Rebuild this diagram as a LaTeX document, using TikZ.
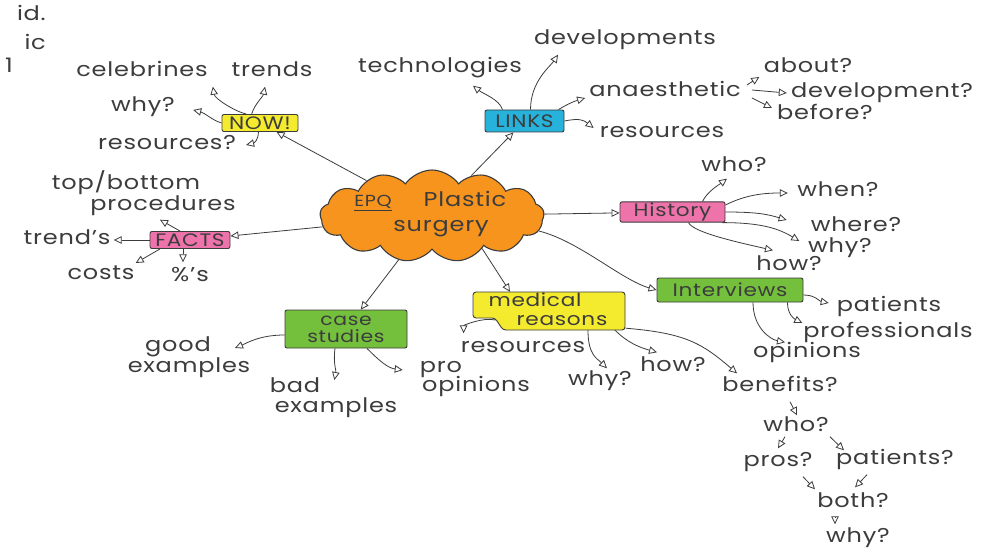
\documentclass[tikz,border=0pt]{standalone}
\usepackage{fontspec}
\setmainfont{Poppins}[FakeStretch=1.2,LetterSpace=4]
\usetikzlibrary{arrows.meta,shapes.symbols}
\definecolor{ink}{HTML}{3C3C3C}
\definecolor{cYel}{HTML}{F4EA2E}
\definecolor{cCyan}{HTML}{27B2DB}
\definecolor{cPink}{HTML}{EE73AB}
\definecolor{cGreen}{HTML}{74BF3C}
\definecolor{cOrange}{HTML}{F7941E}
\begin{document}
\begin{tikzpicture}[x=1pt,y=-1pt,
  lbl/.style={text=ink,font=\fontsize{20}{22}\selectfont,inner sep=1pt,text height=13pt,text depth=4pt},
  boxtxt/.style={draw=ink,line width=0.9pt,rounded corners=2pt,text=ink,font=\fontsize{18}{16}\selectfont,inner sep=1pt,align=center},
  arr/.style={draw=ink,line width=0.8pt,-{Triangle[open,length=8pt,width=7.5pt]}},
]
\fill[white] (0,0) rectangle (995,553);
\useasboundingbox (0,0) rectangle (995,553);

% fragments at the left edge
\node[lbl,anchor=east] (f1) at (47,16) {id.};
\node[lbl,anchor=east] (f2) at (47,45) {ic};
\node[lbl] (f3) at (9,68) {1};

% central cloud
\node[cloud,cloud puffs=13,cloud puff arc=110,cloud ignores aspect,minimum width=224pt,minimum height=92pt,draw=ink,line width=1.1pt,fill=cOrange,inner sep=0pt] (cloud) at (432,216) {};
\node[lbl,font=\fontsize{16}{18}\selectfont] (epq) at (373,202) {\underline{EPQ}};
\node[lbl] (plastic) at (465,202) {Plastic};
\node[lbl] (surgery) at (441,227) {surgery};

% boxes
\node[boxtxt,fill=cYel,minimum width=76pt,minimum height=17pt] (now) at (260,123) {NOW!};
\node[boxtxt,fill=cCyan,minimum width=79pt,minimum height=22pt] (links) at (524.5,121) {LINKS};
\node[boxtxt,fill=cPink,minimum width=105pt,minimum height=20pt] (hist) at (672.5,212) {History};
\node[boxtxt,fill=cPink,minimum width=80pt,minimum height=17pt] (facts) at (190,240) {FACTS};
\node[boxtxt,fill=cGreen,minimum width=146pt,minimum height=24pt] (intv) at (730,290) {Interviews};
\node[boxtxt,fill=cGreen,font=\fontsize{17}{17}\selectfont,minimum width=122pt,minimum height=38pt] (case) at (346,329) {case\\studies};
\draw[draw=ink,line width=0.9pt,fill=cYel,rounded corners=3pt] (473,292) -- (625,292) -- (625,330) -- (503,330) -- (495,318) -- (473,318) -- cycle;
\node[minimum width=153pt,minimum height=38pt,inner sep=0pt] (med) at (549,311) {};
\node[lbl,font=\fontsize{18}{18}\selectfont] (medt1) at (535,302) {medical};
\node[lbl,font=\fontsize{18}{18}\selectfont] (medt2) at (562,321) {reasons};

% labels
\node[lbl,minimum width=133pt] (celeb) at (142,72) {celebrines};
\node[lbl,minimum width=67pt] (trends) at (272,72) {trends};
\node[lbl,minimum width=70pt] (why1) at (143,107) {why?};
\node[lbl,minimum width=137pt] (res1) at (167,145) {resources?};
\node[lbl,minimum width=160pt] (tech) at (440,68) {technologies};
\node[lbl,minimum width=190pt] (dev) at (625,40) {developments};
\node[lbl,minimum width=145pt] (anaes) at (665,92) {anaesthetic};
\node[lbl,minimum width=115pt] (res2) at (662,133) {resources};
\node[lbl,minimum width=91pt] (about) at (808,68) {about?};
\node[lbl,minimum width=190pt] (devq) at (882,93) {development?};
\node[lbl,minimum width=96pt] (before) at (825,115) {before?};
\node[lbl,minimum width=52pt] (who) at (734,167) {who?};
\node[lbl,minimum width=88pt] (when) at (838,192) {when?};
\node[lbl,minimum width=92pt] (where) at (856,227) {where?};
\node[lbl,minimum width=77pt] (why2) at (840,248) {why?};
\node[lbl,minimum width=55pt] (how) at (789,266) {how?};
\node[lbl,minimum width=98pt] (pat) at (889,307) {patients};
\node[lbl,minimum width=173pt] (prof) at (888,333) {professionals};
\node[lbl,minimum width=80pt] (opin) at (807,353) {opinions};
\node[lbl,minimum width=132pt] (topb) at (126,185) {top/bottom};
\node[lbl,minimum width=133pt] (proc) at (163,206) {procedures};
\node[lbl,minimum width=89pt] (trd) at (67,240) {trend's};
\node[lbl,minimum width=65pt] (costs) at (101,275) {costs};
\node[lbl,minimum width=46pt] (pct) at (190,277) {\%'s};
\node[lbl,minimum width=57pt] (good) at (178,347) {good};
\node[lbl,minimum width=128pt] (goodex) at (189,368) {examples};
\node[lbl,minimum width=44pt] (bad) at (295,388) {bad};
\node[lbl,minimum width=127pt] (badex) at (336,408) {examples};
\node[lbl,minimum width=33pt] (pro) at (441,368) {pro};
\node[lbl,minimum width=98pt] (proop) at (476,387) {opinions};
\node[lbl,minimum width=103pt] (medres) at (523,348) {resources};
\node[lbl,minimum width=74pt] (why3) at (600,381) {why?};
\node[lbl,minimum width=60pt] (how3) at (673,367) {how?};
\node[lbl,minimum width=123pt] (ben) at (780,387) {benefits?};
\node[lbl,minimum width=62pt] (who2) at (796,427) {who?};
\node[lbl,minimum width=63pt] (pros) at (778,462) {pros?};
\node[lbl,minimum width=115pt] (patq) at (895,460) {patients?};
\node[lbl,minimum width=67pt] (both) at (853,503) {both?};
\node[lbl,minimum width=70pt] (why4) at (858,538) {why?};

% cloud to branches
\draw[arr] (cloud) -- (now);
\draw[arr] (cloud) -- (links);
\draw[arr] (cloud) -- (hist);
\draw[arr] (cloud) -- (facts);
\draw[arr] (cloud) -- (case);
\draw[arr] (cloud.-33) -- ([xshift=-39pt]med.north);
\draw[arr] (cloud.-8) .. controls +(40,10) and +(-35,-10) .. (intv.west);

% NOW
\draw[arr] (now.147) .. controls +(-12,-3) and +(2,12) .. ([xshift=4pt,yshift=-5pt]celeb.south east);
\draw[arr] (now.133) .. controls +(3,-10) and +(-2,10) .. ([xshift=-7pt,yshift=-5pt]trends.south);
\draw[arr] (now.west) .. controls +(-10,-3) and +(12,3) .. ([xshift=15pt,yshift=-3pt]why1.east);
\draw[arr] (now.-100) .. controls +(0,8) and +(8,-2) .. ([xshift=9pt]res1.east);

% LINKS
\draw[arr] ([xshift=-22pt]links.north) .. controls +(-3,-10) and +(10,8) .. ([xshift=33pt,yshift=-8pt]tech.south);
\draw[arr] ([xshift=6pt]links.north) .. controls +(0,-28) and +(-8,12) .. ([xshift=-67pt,yshift=-5pt]dev.south);
\draw[arr] ([xshift=-6pt]links.north east) .. controls +(10,-6) and +(-10,3) .. ([xshift=-3pt,yshift=-6pt]anaes.west);
\draw[arr] (links.east) .. controls +(15,-3) and +(-10,-8) .. ([xshift=-5pt,yshift=5pt]res2.west);
\draw[arr] ([xshift=5pt,yshift=7pt]anaes.east) -- ([xshift=-3pt,yshift=-9pt]about.west);
\draw[arr] ([xshift=10pt,yshift=2pt]anaes.east) -- (devq.west);
\draw[arr] ([xshift=10pt,yshift=-6pt]anaes.east) -- ([xshift=-4pt,yshift=7pt]before.west);

% History
\draw[arr] ([xshift=30pt]hist.north) .. controls +(5,-10) and +(-8,6) .. ([xshift=-7pt,yshift=-2pt]who.south);
\draw[arr] ([yshift=7pt]hist.east) .. controls +(20,-10) and +(-25,0) .. ([xshift=-6pt,yshift=-1pt]when.west);
\draw[arr] (hist.east) .. controls +(30,0) and +(-20,-6) .. ([xshift=-23pt,yshift=7pt]where.west);
\draw[arr] ([xshift=-3pt]hist.south east) .. controls +(40,0) and +(-20,-12) .. ([xshift=-2pt,yshift=7pt]why2.west);
\draw[arr] ([xshift=16pt]hist.south) .. controls +(5,10) and +(-35,-8) .. ([xshift=-16pt,yshift=6pt]how.north);

% Interviews
\draw[arr] ([yshift=-5pt]intv.east) .. controls +(12,0) and +(-10,-2) .. ([xshift=-7pt,yshift=4pt]pat.west);
\draw[arr] ([xshift=-16pt]intv.south east) .. controls +(0,12) and +(-8,-4) .. ([xshift=1pt,yshift=10pt]prof.west);
\draw[arr] ([xshift=23pt]intv.south) .. controls +(0,25) and +(-15,-3) .. ([xshift=-22pt,yshift=1pt]opin.north);

% FACTS
\draw[arr] ([xshift=-10pt]facts.north) -- ([xshift=-3pt,yshift=-4pt]proc.south);
\draw[arr] (facts.west) -- ([xshift=2pt]trd.east);
\draw[arr] ([xshift=-30pt]facts.south) -- ([yshift=12pt]costs.east);
\draw[arr] ([xshift=-7pt]facts.south) -- ([xshift=-7pt,yshift=5pt]pct.north);

% case studies
\draw[arr] ([yshift=-6pt]case.west) .. controls +(-25,0) and +(12,-5) .. ([xshift=23pt,yshift=-1pt]good.east);
\draw[arr] ([xshift=-11pt]case.south) .. controls +(-2,15) and +(2,-10) .. ([xshift=13pt,yshift=8pt]bad.east);
\draw[arr] ([xshift=21pt]case.south) .. controls +(12,12) and +(-15,-2) .. ([xshift=-16pt,yshift=-2pt]pro.west);

% medical reasons
\draw[arr] ([xshift=23pt,yshift=-9pt]med.west) .. controls +(-12,-3) and +(0,-8) .. ([xshift=4pt,yshift=5pt]medres.north west);
\draw[arr] ([xshift=39pt]med.south) .. controls +(0,25) and +(-10,-10) .. ([xshift=7pt,yshift=3pt]why3.north);
\draw[arr] ([xshift=66pt]med.south) .. controls +(12,12) and +(-18,-5) .. ([xshift=-16pt,yshift=5pt]how3.north);
\draw[arr] ([yshift=2pt]med.south east) .. controls +(60,5) and +(-35,-30) .. ([xshift=-43pt,yshift=4pt]ben.north);

% benefits chain
\draw[arr] ([xshift=10pt,yshift=-5pt]ben.south) -- ([xshift=1pt,yshift=2pt]who2.north);
\draw[arr] ([xshift=-11pt]who2.south) -- ([yshift=4pt]pros.north);
\draw[arr] (who2.south east) -- ([xshift=9pt]patq.north west);
\draw[arr] ([xshift=25pt,yshift=-5pt]pros.south) -- ([xshift=-38pt,yshift=4pt]both.north);
\draw[arr] ([xshift=-28pt,yshift=-5pt]patq.south) -- ([xshift=2pt,yshift=6pt]both.north);
\draw[arr] ([xshift=-18pt,yshift=-5pt]both.south) -- ([xshift=-23pt,yshift=4pt]why4.north);
\end{tikzpicture}
\end{document}
